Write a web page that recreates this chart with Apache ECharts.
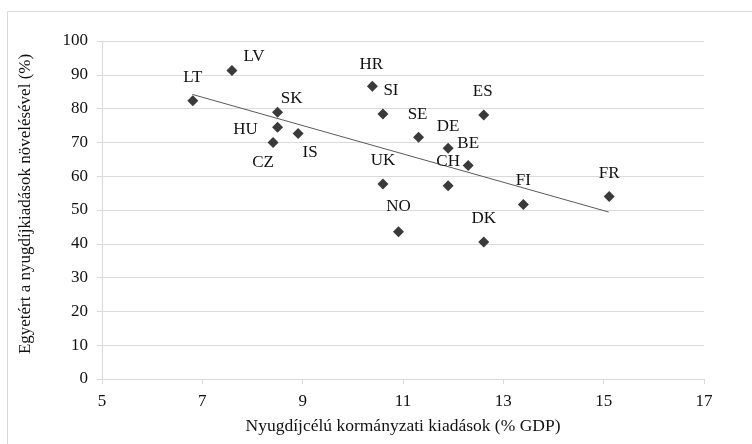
<!DOCTYPE html>
<html>
<head>
<meta charset="utf-8">
<script src="https://cdn.jsdelivr.net/npm/echarts@6/dist/echarts.min.js"></script>
<style>
  html, body { margin: 0; padding: 0; background: #fff; }
  #main { width: 752px; height: 444px; }
</style>
</head>
<body>
<div id="main"></div>
<script>
// országkódok, kiadás (% GDP), egyetértés (%)
const countries = ['LT', 'LV', 'SK', 'HU', 'CZ', 'IS', 'HR', 'SI', 'SE', 'ES', 'DE', 'BE', 'UK', 'CH', 'FI', 'FR', 'NO', 'DK'];
const spending = [6.81, 7.59, 8.50, 8.50, 8.41, 8.91, 10.39, 10.60, 11.31, 12.61, 11.90, 12.30, 10.60, 11.90, 13.40, 15.11, 10.91, 12.61];
const agree = [82.3, 91.3, 78.9, 74.5, 70.0, 72.6, 86.6, 78.4, 71.5, 78.1, 68.3, 63.2, 57.7, 57.2, 51.6, 54.0, 43.6, 40.5];

// trendvonal végpontjai
const trendX = [6.8, 15.1];
const trendY = [84.2, 49.4];

// label offsets (px) from the marker centre
const labelOffsets = {
    LT: [0, -23], LV: [22, -14], SK: [14, -14], HU: [-32, 2], CZ: [-10, 20], IS: [12, 19],
    HR: [-1, -22], SI: [8, -23], SE: [-1, -23], ES: [-1, -23], DE: [0, -22], BE: [0, -22],
    UK: [0, -23], CH: [0, -24], FI: [0, -24], FR: [0, -23], NO: [0, -25], DK: [0, -24]
};

const FONT = '"Liberation Serif", "Times New Roman", serif';
const TEXT = '#111';

const chart = echarts.init(document.getElementById('main'));

const points = countries.map((c, i) => ({
    value: [spending[i], agree[i]],
    name: c,
    label: { offset: labelOffsets[c] }
}));

const option = {
    animation: false,
    graphic: [{
        type: 'rect',
        shape: { x: 7.5, y: 11.5, width: 800, height: 500 },
        style: { fill: 'none', stroke: '#d9d9d9', lineWidth: 1 },
        silent: true
    }],
    grid: { left: 102, top: 41, right: 48, bottom: 65 },
    xAxis: {
        type: 'value',
        min: 5,
        max: 17,
        interval: 2,
        name: 'Nyugdíjcélú kormányzati kiadások (% GDP)',
        nameLocation: 'middle',
        nameGap: 38,
        nameTextStyle: { fontFamily: FONT, fontSize: 17.5, color: TEXT },
        axisLine: { show: true, lineStyle: { color: '#d9d9d9' } },
        axisTick: { show: true, length: 5, lineStyle: { color: '#d9d9d9' } },
        axisLabel: { fontFamily: FONT, fontSize: 17, color: TEXT, margin: 14 },
        splitLine: { show: false }
    },
    yAxis: {
        type: 'value',
        min: 0,
        max: 100,
        interval: 10,
        name: 'Egyetért a nyugdíjkiadások növelésével (%)',
        nameLocation: 'middle',
        nameGap: 68,
        nameTextStyle: { fontFamily: FONT, fontSize: 17, color: TEXT, padding: [0, 0, 0, 12] },
        axisLine: { show: true, lineStyle: { color: '#d9d9d9' } },
        axisTick: { show: true, length: 5, lineStyle: { color: '#d9d9d9' } },
        axisLabel: { fontFamily: FONT, fontSize: 17, color: TEXT, margin: 14 },
        splitLine: { show: true, lineStyle: { color: '#d9d9d9', width: 1 } }
    },
    series: [
        {
            type: 'line',
            data: trendX.map((x, i) => [x, trendY[i]]),
            symbol: 'none',
            lineStyle: { color: '#595959', width: 1 },
            silent: true,
            z: 2
        },
        {
            type: 'scatter',
            data: points,
            symbol: 'diamond',
            symbolSize: 11,
            itemStyle: { color: '#3a3a3a', opacity: 1 },
            label: {
                show: true,
                position: 'inside',
                align: 'center',
                verticalAlign: 'middle',
                formatter: '{b}',
                fontFamily: FONT,
                fontSize: 17,
                color: TEXT
            },
            z: 3
        }
    ]
};

chart.setOption(option);
</script>
</body>
</html>
